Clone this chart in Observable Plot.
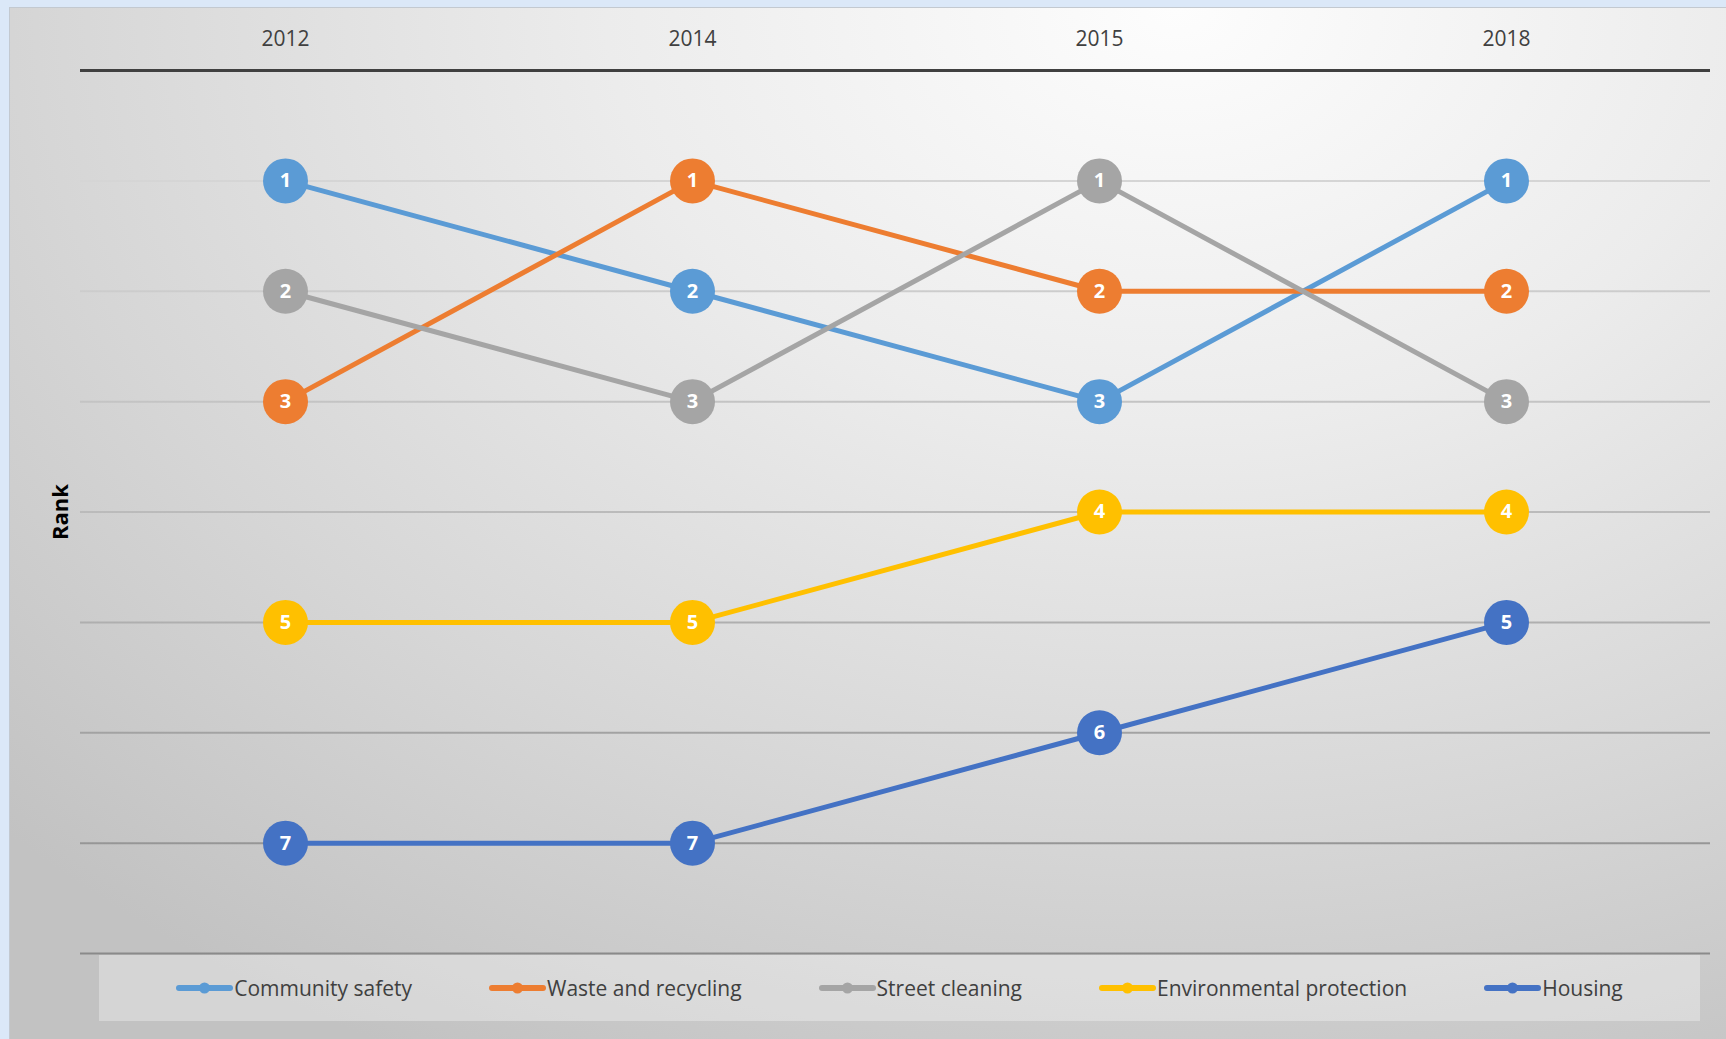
<!DOCTYPE html>
<html>
<head>
<meta charset="utf-8">
<script src="https://cdn.jsdelivr.net/npm/d3@7"></script>
<script src="https://cdn.jsdelivr.net/npm/@observablehq/plot@0.6"></script>
<style>
  html, body { margin: 0; padding: 0; }
  body { width: 1726px; height: 1039px; background: #dbe8f8; position: relative; overflow: hidden; font-family: "Open Sans", sans-serif; }
  #frame { position: absolute; left: 9px; top: 7px; width: 1717px; height: 1032px; box-sizing: border-box;
    border-left: 1px solid #c3c9d0; border-top: 1px solid #c3c9d0;
    background: radial-gradient(ellipse 95% 115% at 68% 0%, #fdfdfd 0%, #ececec 35%, #d6d6d6 70%, #c2c2c2 100%); }
  #chart { position: absolute; left: 0; top: 0; }
  #legend { position: absolute; left: 99px; top: 955px; width: 1601px; height: 66px; background: rgba(255,255,255,0.32);
    display: flex; justify-content: center; align-items: center; gap: 77px; }
  .item { display: flex; align-items: center; font-size: 21px; color: #404040; white-space: nowrap; }
  .item svg { margin-right: 1px; }
</style>
</head>
<body>
<div id="frame"></div>
<div id="chart"></div>
<div id="legend"></div>
<script>
const years = ["2012", "2014", "2015", "2018"];
const seriesNames = ["Community safety", "Waste and recycling", "Street cleaning", "Environmental protection", "Housing"];
const seriesColors = ["#5b9bd5", "#ed7d31", "#a5a5a5", "#ffc000", "#4472c4"];
const communitySafety = [1, 2, 3, 1];
const wasteRecycling = [3, 1, 2, 2];
const streetCleaning = [2, 3, 1, 3];
const environmentalProtection = [5, 5, 4, 4];
const housing = [7, 7, 6, 5];
const rankTicks = [1, 2, 3, 4, 5, 6, 7, 8];

const seriesValues = [communitySafety, wasteRecycling, streetCleaning, environmentalProtection, housing];
const data = seriesNames.flatMap((name, i) => years.map((year, j) => ({series: name, year, rank: seriesValues[i][j]})));

const chart = Plot.plot({
  width: 1726,
  height: 955,
  marginTop: 70,
  marginBottom: 2,
  marginLeft: 80,
  marginRight: 16,
  style: {background: "transparent", fontFamily: "Open Sans, sans-serif"},
  x: {type: "point", domain: years, padding: 0.5, axis: null},
  y: {domain: [0, 8], range: [70, 953], axis: null},
  color: {domain: seriesNames, range: seriesColors},
  marks: [
    Plot.ruleY(rankTicks, {y: d => d, stroke: "url(#gridgrad)", strokeWidth: 2}),
    Plot.ruleY([0], {stroke: "#404040", strokeWidth: 3}),
    Plot.axisX({anchor: "top", tickSize: 0, tickPadding: 25, fontSize: 21, color: "#404040", label: null}),
    Plot.text(["Rank"], {frameAnchor: "left", textAnchor: "middle", dx: -20, rotate: -90, fontWeight: "bold", fontSize: 22, fill: "#000"}),
    Plot.line(data, {x: "year", y: "rank", z: "series", stroke: "series", strokeWidth: 5}),
    Plot.dot(data, {x: "year", y: "rank", fill: "series", r: 22.5}),
    Plot.text(data, {x: "year", y: "rank", text: d => String(d.rank), fill: "white", fontWeight: "bold", fontSize: 20})
  ]
});

const defs = d3.select(chart).insert("defs", ":first-child");
const g = defs.append("linearGradient").attr("id", "gridgrad").attr("gradientUnits", "userSpaceOnUse")
  .attr("x1", 0).attr("y1", 170).attr("x2", 0).attr("y2", 953);
g.append("stop").attr("offset", "0%").attr("stop-color", "#d6d6d6");
g.append("stop").attr("offset", "45%").attr("stop-color", "#bababa");
g.append("stop").attr("offset", "100%").attr("stop-color", "#8a8a8a");

document.getElementById("chart").appendChild(chart);

const legend = d3.select("#legend");
seriesNames.forEach((name, i) => {
  const item = legend.append("div").attr("class", "item");
  const s = item.append("svg").attr("width", 57).attr("height", 14);
  s.append("line").attr("x1", 3).attr("x2", 54).attr("y1", 7).attr("y2", 7)
    .attr("stroke", seriesColors[i]).attr("stroke-width", 6).attr("stroke-linecap", "round");
  s.append("circle").attr("cx", 28.5).attr("cy", 7).attr("r", 5.5).attr("fill", seriesColors[i]);
  item.append("span").text(name);
});
</script>
</body>
</html>
